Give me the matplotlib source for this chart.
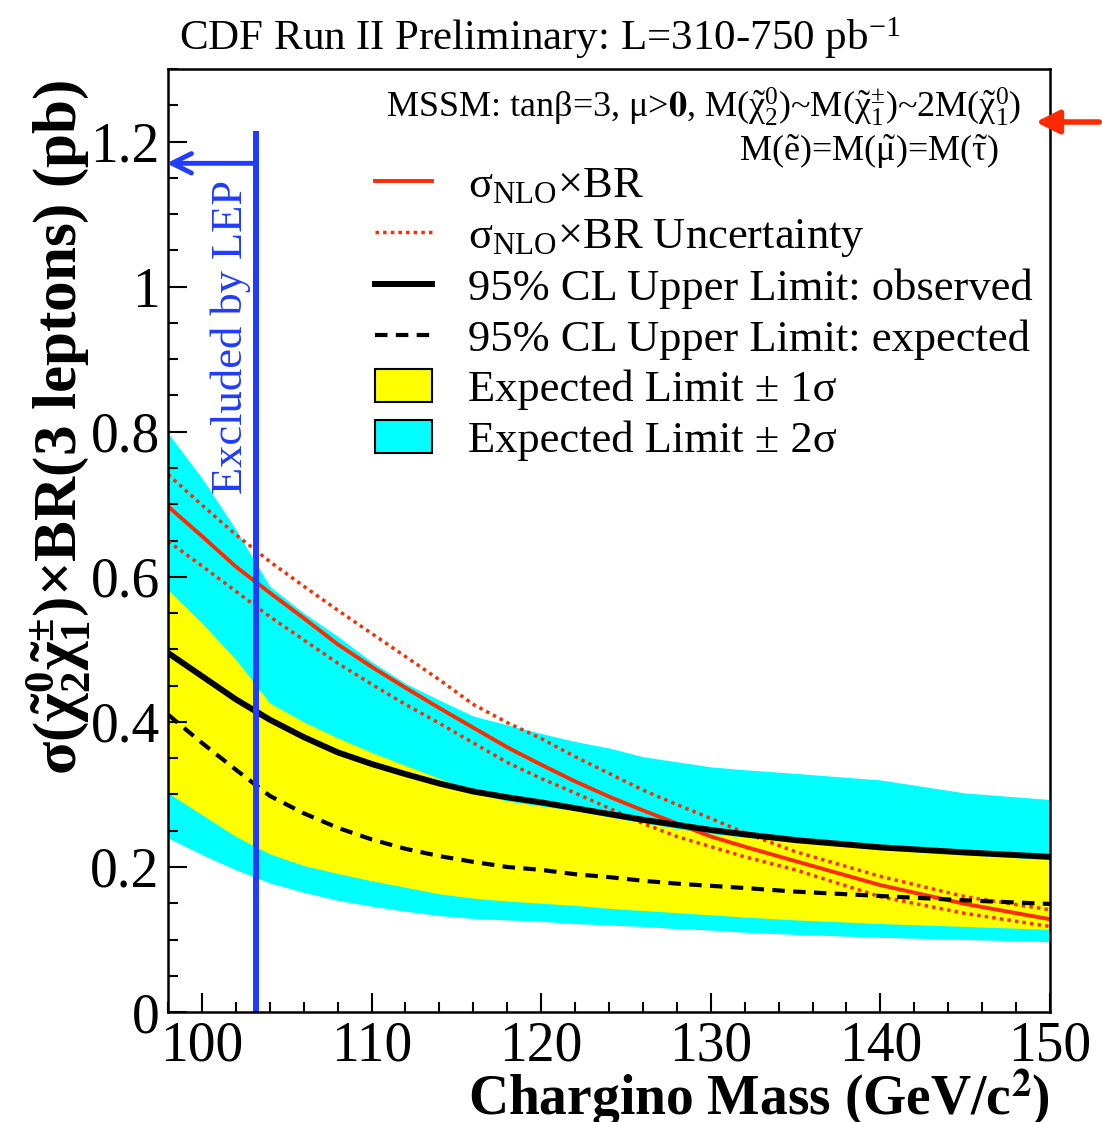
import matplotlib
matplotlib.use('Agg')
import matplotlib.pyplot as plt
from matplotlib.lines import Line2D
from matplotlib.patches import Patch, FancyArrowPatch
from matplotlib.ticker import MultipleLocator

plt.rcParams['font.family'] = ['Liberation Serif', 'DejaVu Serif']
plt.rcParams['mathtext.fontset'] = 'stix'
plt.rcParams['mathtext.default'] = 'regular'

# chargino mass (GeV/c^2)
mass = [98, 100, 102, 104, 106, 108, 110, 112, 114, 116, 118, 120, 122, 124, 126, 128, 130, 132, 135, 140, 145, 150]
# sigma_NLO x BR and its uncertainty (pb)
xsec = [0.697, 0.656, 0.614, 0.578, 0.543, 0.507, 0.476, 0.447, 0.419, 0.392, 0.365, 0.341,
        0.318, 0.297, 0.278, 0.260, 0.242, 0.228, 0.208, 0.175, 0.149, 0.128]
xsec_hi = [0.741, 0.699, 0.658, 0.621, 0.587, 0.554, 0.522, 0.490, 0.458, 0.424, 0.399, 0.377,
           0.352, 0.329, 0.306, 0.286, 0.267, 0.247, 0.221, 0.187, 0.159, 0.141]
xsec_lo = [0.649, 0.615, 0.580, 0.545, 0.513, 0.481, 0.452, 0.424, 0.398, 0.371, 0.344, 0.322,
           0.302, 0.281, 0.260, 0.242, 0.228, 0.214, 0.196, 0.159, 0.136, 0.118]
# 95% CL upper limits
obs = [0.495, 0.463, 0.431, 0.403, 0.379, 0.358, 0.342, 0.328, 0.315, 0.304, 0.296, 0.289,
       0.281, 0.273, 0.265, 0.258, 0.251, 0.245, 0.237, 0.227, 0.220, 0.214]
exp = [0.410, 0.371, 0.334, 0.298, 0.274, 0.254, 0.238, 0.225, 0.215, 0.207, 0.200, 0.196,
       0.190, 0.186, 0.181, 0.177, 0.174, 0.171, 0.166, 0.160, 0.154, 0.149]
# expected limit +-1 sigma and +-2 sigma bands
exp_1s_hi = [0.582, 0.536, 0.486, 0.426, 0.400, 0.378, 0.358, 0.340, 0.322, 0.302, 0.291, 0.284,
             0.278, 0.269, 0.261, 0.253, 0.246, 0.241, 0.235, 0.224, 0.217, 0.210]
exp_1s_lo = [0.302, 0.272, 0.242, 0.218, 0.202, 0.191, 0.181, 0.172, 0.163, 0.157, 0.153, 0.150,
             0.147, 0.143, 0.140, 0.137, 0.134, 0.131, 0.127, 0.122, 0.118, 0.114]
exp_2s_hi = [0.798, 0.736, 0.665, 0.587, 0.550, 0.518, 0.483, 0.453, 0.430, 0.408, 0.396, 0.384,
             0.373, 0.364, 0.352, 0.345, 0.338, 0.334, 0.329, 0.320, 0.302, 0.293]
exp_2s_lo = [0.240, 0.217, 0.196, 0.178, 0.165, 0.154, 0.146, 0.139, 0.133, 0.129, 0.127, 0.125,
             0.122, 0.120, 0.118, 0.115, 0.113, 0.110, 0.107, 0.103, 0.100, 0.097]
# LEP exclusion
lep_limit = 103.2
lep_top = 1.21
lep_arrow_y = 1.17

red = '#ff2a00'
blue = '#1f3cff'
dotted = (0, (1, 1.2))
dashed = (0, (3, 2))

fig = plt.figure(figsize=(11.02, 11.22), dpi=100)
ax = fig.add_axes([0.1525, 0.098, 0.8003, 0.8405])

ax.fill_between(mass, exp_2s_lo, exp_2s_hi, color='#00ffff', lw=0)
ax.fill_between(mass, exp_1s_lo, exp_1s_hi, color='#ffff00', lw=0)
ax.plot(mass, xsec_hi, color=red, lw=2.5, ls=dotted)
ax.plot(mass, xsec_lo, color=red, lw=2.5, ls=dotted)
ax.plot(mass, xsec, color=red, lw=2.8)
ax.plot(mass, exp, color='black', lw=3, ls=dashed)
ax.plot(mass, obs, color='black', lw=4.3)

# LEP line + arrow
ax.plot([lep_limit, lep_limit], [0, lep_top], color=blue, lw=4.3)
ax.annotate('', xy=(97.75, lep_arrow_y), xytext=(lep_limit, lep_arrow_y),
            arrowprops=dict(arrowstyle='->', color=blue, lw=3.5, mutation_scale=35),
            annotation_clip=False)
ax.text(101.7, 0.93, 'Excluded by LEP', rotation=90, color=blue, fontsize=32,
        ha='center', va='center')

ax.set_xlim(98, 150)
ax.set_ylim(0, 1.3)
ax.xaxis.set_major_locator(MultipleLocator(10))
ax.xaxis.set_minor_locator(MultipleLocator(2))
ax.yaxis.set_minor_locator(MultipleLocator(0.05))
ax.set_yticks([0, 0.2, 0.4, 0.6, 0.8, 1.0, 1.2])
ax.set_yticklabels(['0', '0.2', '0.4', '0.6', '0.8', '1', '1.2'])
ax.tick_params(which='both', direction='in', top=False, right=False, width=1.5, labelsize=40)
ax.tick_params(which='major', length=14, pad=6)
ax.tick_params(which='minor', length=7)
for s in ax.spines.values():
    s.set_linewidth(1.8)

ax.set_xlabel('Chargino Mass (GeV/c$^{\\mathbf{2}}$)', fontsize=40, fontweight='bold', loc='right', labelpad=-4)
ax.set_ylabel(r'$\sigma(\tilde{\chi}_2^0\tilde{\chi}_1^{\pm})$' + '×BR(3 leptons) (pb)',
              fontsize=44, fontweight='bold')
ax.yaxis.label.set_va('center')
ax.yaxis.set_label_coords(-0.124, 0.62)

fig.text(0.162, 0.966, 'CDF Run II Preliminary: L=310-750 pb$^{-1}$', fontsize=31, ha='left', va='center')

ax.text(0.967, 0.960, r'MSSM: tan$\beta$=3, $\mu$>$\mathbf{0}$, M($\tilde{\chi}_2^0$)~M($\tilde{\chi}_1^{\pm}$)~2M($\tilde{\chi}_1^0$)',
        transform=ax.transAxes, fontsize=26, ha='right', va='center')
ax.text(0.942, 0.912, r'M($\tilde{e}$)=M($\tilde{\mu}$)=M($\tilde{\tau}$)',
        transform=ax.transAxes, fontsize=26, ha='right', va='center')

handles = [Line2D([], [], color=red, lw=2.8),
           Line2D([], [], color=red, lw=2.5, ls=dotted),
           Line2D([], [], color='black', lw=4.3),
           Line2D([], [], color='black', lw=3, ls=dashed),
           Patch(facecolor='#ffff00', edgecolor='black', lw=1.5),
           Patch(facecolor='#00ffff', edgecolor='black', lw=1.5)]
labels = [r'$\sigma_{NLO}$×BR',
          r'$\sigma_{NLO}$×BR Uncertainty',
          '95% CL Upper Limit: observed',
          '95% CL Upper Limit: expected',
          'Expected Limit ± 1σ',
          'Expected Limit ± 2σ']
ax.legend(handles, labels, loc='upper left', bbox_to_anchor=(0.235, 0.898), frameon=False,
          fontsize=32, borderpad=0, borderaxespad=0, handlelength=1.28, handleheight=0.75,
          handletextpad=0.8, labelspacing=0.22)

fig.patches.append(FancyArrowPatch(
    (1.0, 1 - 122 / 1122), (1033 / 1102, 1 - 122 / 1122), transform=fig.transFigure,
    arrowstyle='-|>', mutation_scale=35, color=red, lw=4))

fig.savefig('out.png', dpi=100)
